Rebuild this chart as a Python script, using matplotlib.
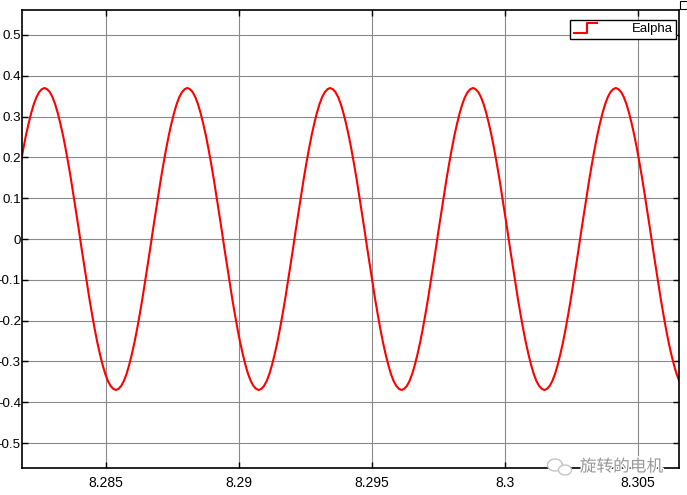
import numpy as np
import matplotlib
matplotlib.use('Agg')
import matplotlib.pyplot as plt
from matplotlib.lines import Line2D
from matplotlib.legend_handler import HandlerBase
from matplotlib.patches import Ellipse, Rectangle
from matplotlib.transforms import IdentityTransform
import matplotlib.patheffects as pe

# scope data: Ealpha sampled every ts seconds from t_start
t_start = 8.2818
ts = 9.944e-5
ealpha = [
    0.185, 0.221, 0.254, 0.283, 0.309, 0.331, 0.348, 0.360, 0.367,
    # period 1
    0.370, 0.367, 0.360, 0.348, 0.331, 0.309, 0.283, 0.254, 0.221, 0.185,
    0.147, 0.106, 0.064, 0.022, -0.022, -0.064, -0.106, -0.147, -0.185, -0.221,
    -0.254, -0.283, -0.309, -0.331, -0.348, -0.360, -0.367, -0.370, -0.367, -0.360,
    -0.348, -0.331, -0.309, -0.283, -0.254, -0.221, -0.185, -0.147, -0.106, -0.064,
    -0.022, 0.022, 0.064, 0.106, 0.147, 0.185, 0.221, 0.254, 0.283, 0.309,
    0.331, 0.348, 0.360, 0.367,
    # period 2
    0.370, 0.367, 0.360, 0.348, 0.331, 0.309, 0.283, 0.254, 0.221, 0.185,
    0.147, 0.106, 0.064, 0.022, -0.022, -0.064, -0.106, -0.147, -0.185, -0.221,
    -0.254, -0.283, -0.309, -0.331, -0.348, -0.360, -0.367, -0.370, -0.367, -0.360,
    -0.348, -0.331, -0.309, -0.283, -0.254, -0.221, -0.185, -0.147, -0.106, -0.064,
    -0.022, 0.022, 0.064, 0.106, 0.147, 0.185, 0.221, 0.254, 0.283, 0.309,
    0.331, 0.348, 0.360, 0.367,
    # period 3
    0.370, 0.367, 0.360, 0.348, 0.331, 0.309, 0.283, 0.254, 0.221, 0.185,
    0.147, 0.106, 0.064, 0.022, -0.022, -0.064, -0.106, -0.147, -0.185, -0.221,
    -0.254, -0.283, -0.309, -0.331, -0.348, -0.360, -0.367, -0.370, -0.367, -0.360,
    -0.348, -0.331, -0.309, -0.283, -0.254, -0.221, -0.185, -0.147, -0.106, -0.064,
    -0.022, 0.022, 0.064, 0.106, 0.147, 0.185, 0.221, 0.254, 0.283, 0.309,
    0.331, 0.348, 0.360, 0.367,
    # period 4
    0.370, 0.367, 0.360, 0.348, 0.331, 0.309, 0.283, 0.254, 0.221, 0.185,
    0.147, 0.106, 0.064, 0.022, -0.022, -0.064, -0.106, -0.147, -0.185, -0.221,
    -0.254, -0.283, -0.309, -0.331, -0.348, -0.360, -0.367, -0.370, -0.367, -0.360,
    -0.348, -0.331, -0.309, -0.283, -0.254, -0.221, -0.185, -0.147, -0.106, -0.064,
    -0.022, 0.022, 0.064, 0.106, 0.147, 0.185, 0.221, 0.254, 0.283, 0.309,
    0.331, 0.348, 0.360, 0.367,
    # last part
    0.370, 0.367, 0.360, 0.348, 0.331, 0.309, 0.283, 0.254, 0.221, 0.185,
    0.147, 0.106, 0.064, 0.022, -0.022, -0.064, -0.106, -0.147, -0.185, -0.221,
    -0.254, -0.283, -0.309, -0.331, -0.348,
]
t = t_start + ts * np.arange(len(ealpha))

x_ticks = [8.285, 8.29, 8.295, 8.3, 8.305]
x_labels = ['8.285', '8.29', '8.295', '8.3', '8.305']
y_ticks = [0.5, 0.4, 0.3, 0.2, 0.1, 0, -0.1, -0.2, -0.3, -0.4, -0.5]
y_labels = ['0.5', '0.4', '0.3', '0.2', '0.1', '0', '-0.1', '-0.2', '-0.3', '-0.4', '-0.5']


# legend icon drawn as a little stair
class StairHandler(HandlerBase):
    def create_artists(self, legend, orig_handle, xdescent, ydescent, width, height, fontsize, trans):
        x0 = -xdescent
        y0 = -ydescent
        xs = [x0, x0 + width * 0.55, x0 + width * 0.55, x0 + width]
        ys = [y0, y0, y0 + height, y0 + height]
        line = Line2D(xs, ys, color='red', lw=1.5, transform=trans)
        return [line]


plt.rcParams['font.family'] = ['Liberation Sans', 'DejaVu Sans']

fig = plt.figure(figsize=(6.87, 4.95), dpi=100)
ax = fig.add_axes([22 / 687, 1 - 468 / 495, (679 - 22) / 687, (468 - 10) / 495])

ln, = ax.plot(t, ealpha, color='#ff0000', lw=1.5)

ax.set_xlim(8.28185, 8.30655)
ax.set_ylim(-0.561, 0.561)
ax.set_xticks(x_ticks)
ax.set_xticklabels(x_labels)
ax.set_yticks(y_ticks)
ax.set_yticklabels(y_labels)
ax.grid(True, color='#8a8a8a', lw=0.8)
ax.set_axisbelow(True)
ax.tick_params(direction='in', length=4, width=1, top=True, right=True, labelsize=10, color='black')
ax.tick_params(axis='x', pad=6)
ax.tick_params(axis='y', pad=0.8, labelsize=9.6)
for s in ax.spines.values():
    s.set_linewidth(1.2)
    s.set_color('black')

leg = ax.legend([ln], ['Ealpha'], handler_map={ln: StairHandler()}, loc='upper right',
                fancybox=False, framealpha=1, edgecolor='black', fontsize=9.5,
                handlelength=1.8, handleheight=0.75, handletextpad=2.6, borderpad=0.25,
                borderaxespad=0, bbox_to_anchor=(0.9954, 0.979))
leg.get_frame().set_linewidth(1)

# small corner button of the scope window
fig.add_artist(Rectangle((680, 486), 7, 8, transform=IdentityTransform(),
                         facecolor='white', edgecolor='black', lw=0.8))

# watermark
fig.text(0.965, 0.0566, '旋转的电机', color='#999999', fontsize=12, ha='right', va='center',
         family=['Noto Sans CJK SC', 'DejaVu Sans'],
         path_effects=[pe.withStroke(linewidth=2, foreground='white')])
fig.add_artist(Ellipse((555, 30), 15, 12, transform=IdentityTransform(),
                       facecolor='white', edgecolor='#c4c4c4', lw=1))
fig.add_artist(Ellipse((565, 25), 13, 10, transform=IdentityTransform(),
                       facecolor='white', edgecolor='#c4c4c4', lw=1))

fig.savefig('out.png', dpi=100, facecolor='white')
